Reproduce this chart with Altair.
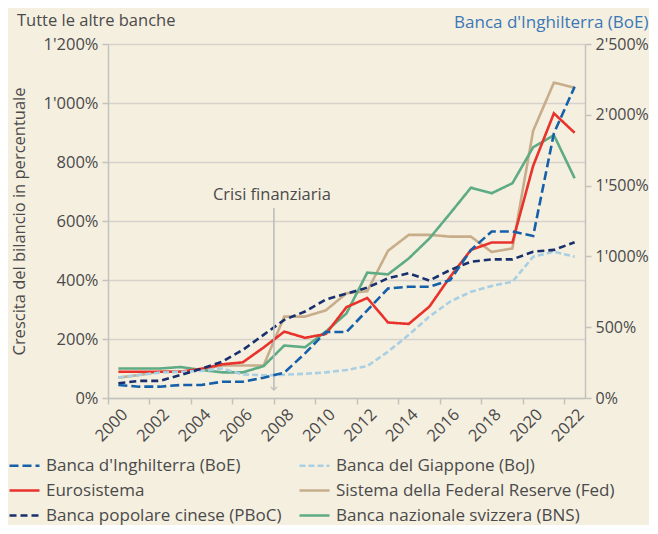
import altair as alt
import pandas as pd

years = list(range(2000, 2023))
series_names = [
    "Banca d'Inghilterra (BoE)",
    "Banca del Giappone (BoJ)",
    "Eurosistema",
    "Sistema della Federal Reserve (Fed)",
    "Banca popolare cinese (PBoC)",
    "Banca nazionale svizzera (BNS)",
]
series_colors = ["#1560a8", "#a9cfe3", "#e8322b", "#c8ad8b", "#18306e", "#5fab84"]
series_dashes = [[9, 4], [6, 3], [1, 0], [1, 0], [7, 4], [1, 0]]

boe = [92, 80, 80, 92, 92, 115, 115, 143, 179, 315, 466, 466, 619, 773, 786, 786, 833, 1045, 1176, 1176, 1144, 1869, 2198]
boj = [69, 78, 86, 89, 92, 100, 80, 77, 79, 82, 87, 95, 108, 157, 214, 276, 327, 360, 380, 394, 479, 496, 479]
euro = [89, 89, 89, 89, 99, 114, 121, 171, 225, 204, 217, 308, 339, 256, 251, 310, 411, 502, 527, 527, 787, 965, 899]
fed = [69, 78, 89, 90, 97, 110, 110, 110, 276, 276, 297, 355, 362, 499, 553, 553, 547, 547, 495, 507, 906, 1069, 1052]
pboc = [50, 58, 58, 78, 99, 123, 163, 214, 265, 293, 334, 354, 374, 406, 423, 398, 434, 462, 470, 470, 496, 502, 528]
bns = [100, 100, 100, 105, 95, 87, 87, 108, 178, 172, 225, 287, 425, 419, 473, 541, 626, 713, 694, 728, 850, 891, 745]

crisis_year = [2008]
crisis_label = ["Crisi finanziaria"]
crisis_text_level = [688]
crisis_arrow_top = [644]
crisis_arrow_bottom = [27]

FONT = "Open Sans"
FS = 16.5
LFS = 17
TEXT = "#4a4a4a"
GRID = "#d5d2cb"
AXISC = "#c4c2bd"
BG = "#f5efe0"

# left-axis series in drawing order (bottom first)
left_order = [
    ("Sistema della Federal Reserve (Fed)", fed),
    ("Banca nazionale svizzera (BNS)", bns),
    ("Eurosistema", euro),
    ("Banca del Giappone (BoJ)", boj),
    ("Banca popolare cinese (PBoC)", pboc),
]
rows = []
for name, vals in left_order:
    for yr, v in zip(years, vals):
        rows.append({"series": name, "x": yr + 0.5, "value": v})
df_left = pd.DataFrame(rows)
df_right = pd.DataFrame({"series": series_names[0], "x": [y + 0.5 for y in years], "value": boe})
df_ann = pd.DataFrame({"x": crisis_year, "label": crisis_label, "ty": crisis_text_level,
                       "y1": crisis_arrow_top, "y2": crisis_arrow_bottom})

pct_expr = "replace(format(datum.value, ','), ',', \"'\") + '%'"

x_enc = alt.X(
    "x:Q",
    scale=alt.Scale(domain=[2000, 2023], nice=False, zero=False),
    axis=alt.Axis(
        values=list(range(2000, 2024)),
        labelExpr="(datum.value % 2 == 0 && datum.value < 2023) ? format(datum.value, 'd') : ''",
        labelAngle=-45,
        labelOffset=11,
        labelPadding=2,
        tickSize=6,
        grid=False,
        title=None,
    ),
)

legend = alt.Legend(
    title=None,
    orient="none",
    direction="horizontal",
    legendX=-100,
    legendY=405,
    columns=2,
    symbolType="stroke",
    symbolSize=900,
    symbolStrokeWidth=2.6,
    labelFontSize=LFS,
    labelColor=TEXT,
    labelFont=FONT,
    labelOffset=5,
    labelLimit=0,
    columnPadding=12,
    rowPadding=-3.5,
)

color_enc = alt.Color("series:N", scale=alt.Scale(domain=series_names, range=series_colors), legend=legend)
dash_enc = alt.StrokeDash("series:N", scale=alt.Scale(domain=series_names, range=series_dashes), legend=legend)

left_lines = alt.Chart(df_left).mark_line(strokeWidth=2.6).encode(
    x=x_enc,
    y=alt.Y(
        "value:Q",
        scale=alt.Scale(domain=[0, 1200], nice=False),
        axis=alt.Axis(
            values=list(range(0, 1201, 200)),
            labelExpr=pct_expr,
            grid=True,
            tickSize=6,
            labelPadding=4,
            title="Crescita del bilancio in percentuale",
            titleX=-89,
            titleY=177,
            titleAngle=-90,
            titleAlign="center",
            titleBaseline="middle",
        ),
    ),
    color=color_enc,
    strokeDash=dash_enc,
)

rule = alt.Chart(df_ann).mark_rule(color="#b9b9b9", strokeWidth=1.5).encode(
    x="x:Q", y="y1:Q", y2="y2:Q"
)
head = alt.Chart(df_ann).mark_point(
    shape="M-1,-1L0,0L1,-1", filled=False, color="#b9b9b9", strokeWidth=1.5, size=40
).encode(x="x:Q", y="y2:Q")
label = alt.Chart(df_ann).mark_text(
    font=FONT, fontSize=FS, color=TEXT, baseline="middle", align="center", dx=-2
).encode(x="x:Q", y="ty:Q", text="label:N")

left_layer = alt.layer(left_lines, rule, head, label)

right_lines = alt.Chart(df_right).mark_line(strokeWidth=2.6).encode(
    x=x_enc,
    y=alt.Y(
        "value:Q",
        scale=alt.Scale(domain=[0, 2500], nice=False),
        axis=alt.Axis(
            orient="right",
            values=list(range(0, 2501, 500)),
            labelExpr=pct_expr,
            labelFontSize=16,
            grid=False,
            tickSize=6,
            labelPadding=4,
            title="Banca d'Inghilterra (BoE)",
            titleFontSize=LFS,
            titleX=63,
            titleY=-17,
            titleAngle=0,
            titleAlign="right",
            titleBaseline="alphabetic",
            titleColor="#3b78b6",
        ),
    ),
    color=color_enc,
    strokeDash=dash_enc,
)

chart = (
    alt.layer(left_layer, right_lines)
    .resolve_scale(y="independent")
    .properties(
        width=477,
        height=354,
        autosize=alt.AutoSizeParams(type="none"),
        padding={"left": 100, "top": 36, "right": 64, "bottom": 127},
        title=alt.TitleParams(
            text="Tutte le altre banche",
            anchor="start",
            frame="group",
            dx=-91,
            dy=16,
            offset=0,
            fontSize=FS,
            font=FONT,
            fontWeight="normal",
            color=TEXT,
        ),
        background=BG,
    )
    .configure_view(stroke=None)
    .configure_axis(
        labelFont=FONT,
        labelFontSize=FS,
        labelColor=TEXT,
        titleFont=FONT,
        titleFontSize=FS,
        titleFontWeight="normal",
        titleColor=TEXT,
        domainColor=AXISC,
        domainWidth=1.5,
        tickColor=AXISC,
        tickWidth=1.5,
        gridColor=GRID,
        gridWidth=1.5,
    )
)

chart.save("out.html", embed_options={"renderer": "svg", "actions": False})
